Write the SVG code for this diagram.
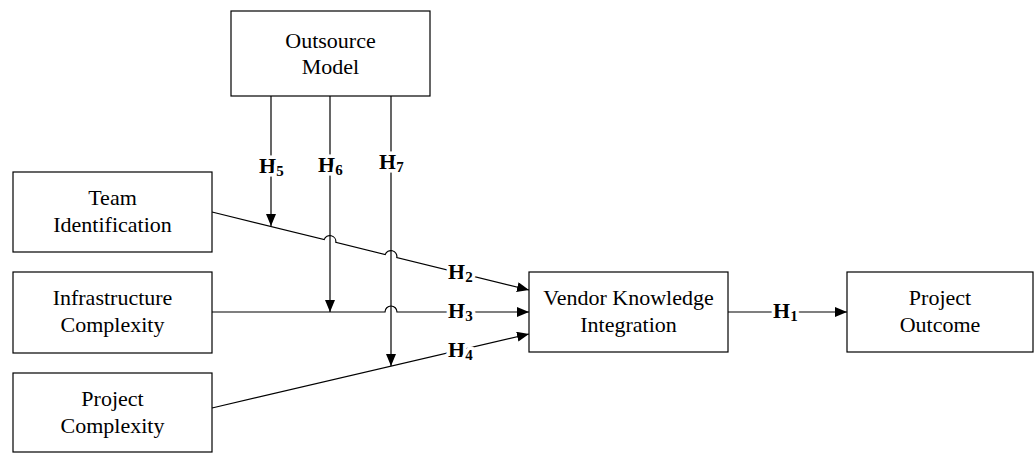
<svg xmlns="http://www.w3.org/2000/svg" width="1034" height="453" viewBox="0 0 1034 453">
<style>
.box{fill:#fff;stroke:#000;stroke-width:1.2}
.t{font-family:"Liberation Serif","Times New Roman",serif;font-size:22px;fill:#000;text-anchor:middle}
.c{fill:none;stroke:#000;stroke-width:1.2}
.h{font-family:"Liberation Serif","Times New Roman",serif;font-size:22px;font-weight:bold;fill:#000;stroke:#fff;stroke-width:7;paint-order:stroke;stroke-linejoin:round}
.s{font-size:15px}
</style>
<defs>
<marker id="ah" viewBox="0 0 12 10" refX="12" refY="5" markerWidth="12" markerHeight="10" markerUnits="userSpaceOnUse" orient="auto">
<path d="M0,0 L12,5 L0,10 Z" fill="#000"/>
</marker>
</defs>
<g id="connectors">
<path class="c" d="M271,96 V226" marker-end="url(#ah)"/>
<path class="c" d="M330,96 V312" marker-end="url(#ah)"/>
<path class="c" d="M391,96 V366" marker-end="url(#ah)"/>
<path class="c" d="M212,212 L324.2,239.6 A6,6 0 0 1 335.8,242.4 L385.2,254.6 A6,6 0 0 1 396.8,257.5 L529,290" marker-end="url(#ah)"/>
<path class="c" d="M212,312 L385,312 A6,6 0 0 1 397,312 L529,312" marker-end="url(#ah)"/>
<path class="c" d="M212,408 L529,334" marker-end="url(#ah)"/>
<path class="c" d="M728,312 L847,312" marker-end="url(#ah)"/>
<text class="h" x="259" y="173">H<tspan class="s" dy="3">5</tspan></text>
<text class="h" x="318" y="172">H<tspan class="s" dy="3">6</tspan></text>
<text class="h" x="379" y="169">H<tspan class="s" dy="3">7</tspan></text>
<text class="h" x="448" y="279">H<tspan class="s" dy="3">2</tspan></text>
<text class="h" x="448" y="318">H<tspan class="s" dy="3">3</tspan></text>
<text class="h" x="448" y="357">H<tspan class="s" dy="3">4</tspan></text>
<text class="h" x="773" y="318">H<tspan class="s" dy="3">1</tspan></text>
</g>
<g id="outsource">
<rect class="box" x="231" y="11" width="199" height="85"/>
<text class="t" x="330.5" y="48">Outsource</text>
<text class="t" x="330.5" y="74">Model</text>
</g>
<g id="team">
<rect class="box" x="13" y="172" width="199" height="80"/>
<text class="t" x="112.5" y="205">Team</text>
<text class="t" x="112.5" y="232">Identification</text>
</g>
<g id="infra">
<rect class="box" x="13" y="272" width="199" height="81"/>
<text class="t" x="112.5" y="305">Infrastructure</text>
<text class="t" x="112.5" y="332">Complexity</text>
</g>
<g id="project">
<rect class="box" x="13" y="373" width="199" height="79"/>
<text class="t" x="112.5" y="406">Project</text>
<text class="t" x="112.5" y="433">Complexity</text>
</g>
<g id="vendor">
<rect class="box" x="529" y="272" width="199" height="80"/>
<text class="t" x="628.5" y="305">Vendor Knowledge</text>
<text class="t" x="628.5" y="332">Integration</text>
</g>
<g id="outcome">
<rect class="box" x="847" y="272" width="186" height="80"/>
<text class="t" x="940" y="305">Project</text>
<text class="t" x="940" y="332">Outcome</text>
</g>
</svg>
